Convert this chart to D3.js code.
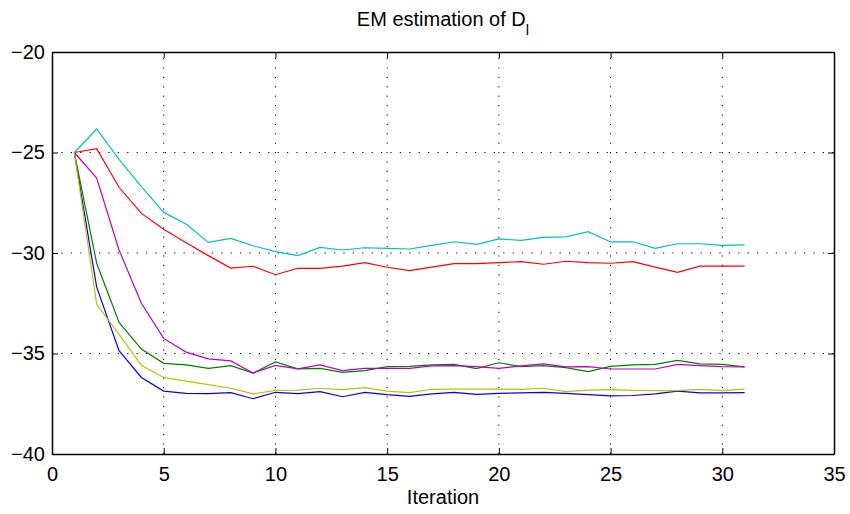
<!DOCTYPE html>
<html>
<head>
<meta charset="utf-8">
<script src="https://cdn.jsdelivr.net/npm/d3@7.9.0/dist/d3.min.js"></script>
<style>
  body { margin: 0; background: #fff; }
  svg { font-family: "Liberation Sans", Arial, sans-serif; }
</style>
</head>
<body>
<div id="chart"></div>
<script>
const iterations = d3.range(1, 32);

const blue = [-25, -31.7, -34.86, -36.19, -36.87, -36.98, -37.0, -36.95, -37.25, -36.93, -37.0,
  -36.9, -37.15, -36.93, -37.05, -37.13, -37.01, -36.93, -37.03, -36.98, -36.96, -36.93, -36.98,
  -37.05, -37.11, -37.09, -37.01, -36.87, -36.96, -36.96, -36.95];
const green = [-25, -30.51, -33.45, -34.78, -35.49, -35.57, -35.74, -35.6, -35.97, -35.42, -35.76,
  -35.74, -35.94, -35.85, -35.65, -35.64, -35.57, -35.54, -35.75, -35.46, -35.65, -35.6, -35.7,
  -35.9, -35.64, -35.57, -35.54, -35.34, -35.52, -35.54, -35.67];
const red = [-25, -24.81, -26.73, -28.03, -28.82, -29.49, -30.13, -30.75, -30.66, -31.08, -30.76,
  -30.76, -30.65, -30.48, -30.71, -30.88, -30.7, -30.53, -30.53, -30.48, -30.43, -30.56, -30.41,
  -30.48, -30.51, -30.43, -30.7, -30.96, -30.65, -30.65, -30.65];
const cyan = [-25, -23.83, -25.34, -26.7, -27.98, -28.56, -29.47, -29.27, -29.64, -29.93, -30.13,
  -29.72, -29.85, -29.74, -29.77, -29.8, -29.62, -29.44, -29.57, -29.3, -29.37, -29.22, -29.2,
  -28.94, -29.45, -29.44, -29.77, -29.54, -29.54, -29.62, -29.6];
const magenta = [-25, -26.27, -29.85, -32.5, -34.25, -34.93, -35.27, -35.37, -35.97, -35.59, -35.76,
  -35.57, -35.85, -35.74, -35.74, -35.74, -35.62, -35.6, -35.65, -35.74, -35.62, -35.52, -35.67,
  -35.65, -35.77, -35.77, -35.77, -35.54, -35.6, -35.65, -35.67];
const yellow = [-25, -32.55, -34.05, -35.59, -36.19, -36.37, -36.55, -36.73, -37.01, -36.83, -36.82,
  -36.73, -36.8, -36.7, -36.87, -36.95, -36.78, -36.77, -36.77, -36.77, -36.78, -36.73, -36.9,
  -36.82, -36.8, -36.83, -36.85, -36.85, -36.78, -36.85, -36.77];

const series = [
  { values: blue, color: '#0000ff' },
  { values: green, color: '#008000' },
  { values: red, color: '#ff0000' },
  { values: cyan, color: '#00bfbf' },
  { values: magenta, color: '#bf00bf' },
  { values: yellow, color: '#bfbf00' }
];

const xTicks = [0, 5, 10, 15, 20, 25, 30, 35];
const yTicks = [-40, -35, -30, -25, -20];

const width = 850;
const height = 514;
const margin = { top: 52, right: 16, bottom: 60, left: 52 };

const x = d3.scaleLinear().domain([0, 35]).range([margin.left, width - margin.right]);
const y = d3.scaleLinear().domain([-40, -20]).range([height - margin.bottom, margin.top]);

const svg = d3.select('#chart').append('svg')
  .attr('width', width)
  .attr('height', height);

// dotted grid
const grid = svg.append('g')
  .attr('stroke', '#000')
  .attr('stroke-width', 1)
  .attr('stroke-dasharray', '1.2,8.2');

grid.selectAll('.gx')
  .data(xTicks.slice(1, -1))
  .join('line')
  .attr('x1', d => x(d)).attr('x2', d => x(d))
  .attr('y1', y(-40)).attr('y2', y(-20));

grid.selectAll('.gy')
  .data(yTicks.slice(1, -1))
  .join('line')
  .attr('y1', d => y(d)).attr('y2', d => y(d))
  .attr('x1', x(0)).attr('x2', x(35));

// lines
const line = d3.line()
  .x((d, i) => x(iterations[i]))
  .y(d => y(d));

svg.append('g').selectAll('path')
  .data(series)
  .join('path')
  .attr('fill', 'none')
  .attr('stroke', d => d.color)
  .attr('stroke-width', 1.2)
  .attr('d', d => line(d.values));

// axes, ticks pointing inward
const minus = d => d3.format('d')(d).replace('-', '\u2212');
const xAxisBottom = d3.axisBottom(x).tickValues(xTicks).tickSizeInner(-6).tickSizeOuter(0).tickPadding(13);
const xAxisTop = d3.axisTop(x).tickValues(xTicks).tickSizeInner(-6).tickSizeOuter(0).tickFormat('');
const yAxisLeft = d3.axisLeft(y).tickValues(yTicks).tickSizeInner(-6).tickSizeOuter(0).tickPadding(7).tickFormat(minus);
const yAxisRight = d3.axisRight(y).tickValues(yTicks).tickSizeInner(-6).tickSizeOuter(0).tickFormat('');

function styleAxis(g) {
  g.select('.domain').attr('stroke', '#000').attr('stroke-width', 1.5);
  g.selectAll('.tick line').attr('stroke', '#000').attr('stroke-width', 1);
  g.selectAll('.tick text').attr('fill', '#000').attr('font-size', 20)
    .attr('font-family', '"Liberation Sans", Arial, sans-serif');
}

svg.append('g').attr('transform', `translate(0,${y(-40)})`).call(xAxisBottom).call(styleAxis);
svg.append('g').attr('transform', `translate(0,${y(-20)})`).call(xAxisTop).call(styleAxis);
svg.append('g').attr('transform', `translate(${x(0)},0)`).call(yAxisLeft).call(styleAxis);
svg.append('g').attr('transform', `translate(${x(35)},0)`).call(yAxisRight).call(styleAxis);

// title with subscript
const title = svg.append('text')
  .attr('x', (x(0) + x(35)) / 2)
  .attr('y', 26)
  .attr('text-anchor', 'middle')
  .attr('font-size', 20)
  .attr('fill', '#000');
title.append('tspan').text('EM estimation of D');
title.append('tspan').attr('dy', 9).attr('font-size', 15).text('l');

// x label
svg.append('text')
  .attr('x', (x(0) + x(35)) / 2)
  .attr('y', 504)
  .attr('text-anchor', 'middle')
  .attr('font-size', 20)
  .attr('fill', '#000')
  .text('Iteration');
</script>
</body>
</html>
